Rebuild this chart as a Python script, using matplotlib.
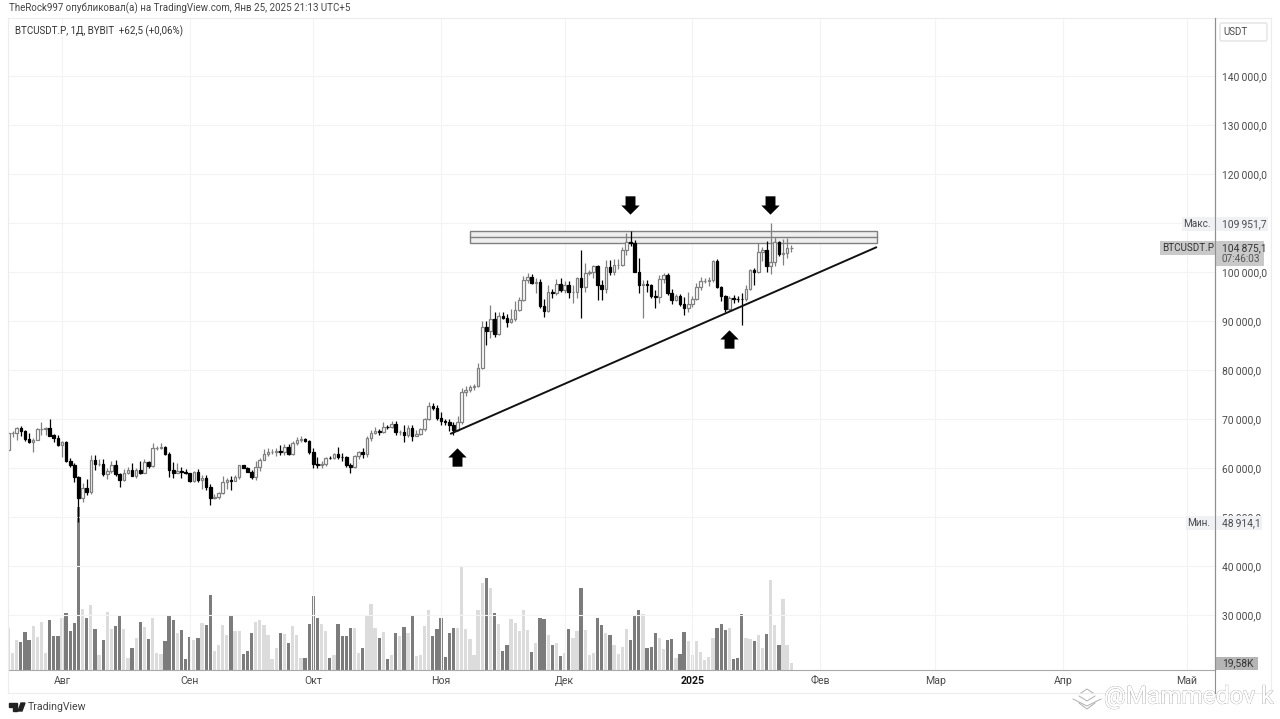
import matplotlib
matplotlib.use("Agg")
import matplotlib.pyplot as plt
import matplotlib.patheffects as pe
from matplotlib.patches import Polygon, Rectangle, FancyBboxPatch
from matplotlib.path import Path
from matplotlib.ticker import FuncFormatter
import numpy as np

plt.rcParams['font.family'] = ['Roboto', 'DejaVu Sans']

# daily candles, day number counted from 1 Aug 2024
first_day = -13
opens = [
    63700, 67100, 67150, 68200, 67550, 65900, 65400, 65800, 67900, 68000,
    68150, 66800, 66150, 64600, 65300, 61400, 60700, 58100, 53950, 56000,
    55100, 61700, 60850, 60900, 58700, 59350, 60600, 58700, 57500, 58900,
    59500, 58450, 59500, 59000, 61150, 60400, 64050, 64150, 64250, 62850,
    59500, 59000, 59400, 59100, 58950, 57300, 59100, 57500, 58000, 56150,
    53950, 54150, 54850, 57050, 57650, 57350, 58100, 60550, 60000, 59200,
    58200, 60300, 61650, 62950, 63200, 63350, 63550, 63300, 64250, 62950,
    65150, 65800, 65850, 65600, 63300, 60800, 60650, 60750, 62100, 62050,
    62800, 62200, 62150, 60600, 60300, 62400, 63200, 62850, 66050, 67050,
    67600, 67350, 68400, 68350, 69000, 67350, 67400, 66650, 68150, 66600,
    67000, 67950, 69900, 72700, 72300, 70250, 69500, 69300, 68750, 67800,
    69350, 75600, 75900, 76550, 76700, 80400, 88700, 87950, 90500, 87300,
    91050, 90600, 89850, 90500, 92300, 94300, 98400, 99000, 97800, 98000,
    93000, 91950, 95950, 95650, 97450, 96400, 97250, 95850, 96000, 98750,
    96950, 99850, 99900, 101150, 97350, 96600, 101100, 99950, 101350, 101400,
    104450, 106150, 105950, 100100, 97300, 97600, 97250, 95200, 94900, 98650,
    99400, 95800, 94200, 95150, 93550, 92600, 93450, 94500, 96850, 98100,
    98200, 98300, 102250, 96950, 95050, 92500, 94700, 94550, 94500, 94450,
    96500, 100500, 99950, 104100, 104400, 101200, 102000, 106100, 103650, 103900,
    104800,
]
highs = [
    67400, 67650, 68400, 68500, 67800, 67100, 66100, 68200, 69400, 68300,
    69950, 67000, 66800, 65600, 65600, 62000, 61100, 58300, 57000, 57700,
    62700, 62700, 61800, 61800, 60000, 61400, 61700, 59000, 59800, 60200,
    61000, 59900, 61500, 61800, 61500, 65000, 64500, 65000, 64500, 63200,
    61200, 61100, 60200, 59800, 59000, 59400, 59800, 58500, 58500, 56800,
    54700, 55200, 58300, 58000, 58300, 58500, 60700, 60700, 60300, 59600,
    61400, 62000, 63800, 64000, 63800, 64000, 64700, 64800, 64800, 65500,
    66400, 66500, 66100, 65700, 64000, 62300, 61500, 62300, 62500, 63000,
    64300, 63100, 62500, 61000, 62700, 63400, 64000, 66500, 67800, 68300,
    67900, 69400, 68700, 69500, 69500, 67800, 68800, 68800, 68800, 67700,
    68200, 70200, 73500, 73200, 72800, 71500, 69900, 69900, 69400, 70600,
    76300, 76800, 77000, 77200, 81500, 89900, 90000, 93300, 91800, 91800,
    91800, 91500, 92500, 94000, 94900, 99200, 99800, 99600, 98800, 98600,
    94500, 97300, 96600, 98600, 98700, 98200, 98200, 97300, 99000, 104400,
    101900, 100500, 101400, 101400, 98300, 102500, 102500, 102600, 102600, 105000,
    108000, 108300, 106500, 102800, 98300, 98400, 97600, 96300, 99300, 99700,
    99800, 96500, 95500, 95500, 94900, 96000, 95000, 97700, 98900, 98700,
    98900, 102500, 102700, 97200, 95300, 95000, 95300, 95200, 95700, 97300,
    100700, 100800, 105900, 105000, 106400, 109951, 107100, 106400, 106800, 106900,
    105500,
]
lows = [
    63300, 66300, 65800, 66600, 65500, 65000, 63300, 65700, 66800, 66800,
    66500, 65400, 64500, 62300, 61200, 60200, 57200, 48914, 53100, 54500,
    54700, 59600, 60400, 58400, 57700, 59000, 58400, 56100, 57400, 58800,
    58300, 57900, 58800, 58900, 60000, 60300, 63600, 63800, 62700, 58100,
    58000, 59000, 58000, 58700, 57200, 57200, 57200, 55800, 55600, 52500,
    53700, 53700, 54600, 55800, 55600, 57300, 57800, 59900, 59100, 57700,
    57600, 59300, 61600, 62500, 62800, 62400, 62700, 62700, 62700, 62700,
    64700, 65400, 65400, 62900, 60000, 60000, 60100, 60500, 61900, 61900,
    61900, 61500, 60200, 58900, 60100, 61900, 62000, 62300, 65500, 66900,
    66800, 67200, 67900, 68100, 66800, 66800, 65300, 66400, 65500, 66500,
    66800, 67600, 69700, 71800, 69700, 68800, 68800, 67500, 66800, 67500,
    69000, 74700, 75500, 76000, 76500, 80200, 85100, 86600, 86700, 87200,
    90400, 88800, 89500, 90000, 92000, 94100, 97800, 97500, 95800, 92600,
    90900, 91800, 94600, 95300, 95900, 95800, 94700, 93700, 94700, 90700,
    96000, 99400, 98800, 94200, 94300, 95800, 99400, 99300, 100700, 101300,
    103400, 105300, 100000, 95700, 90700, 96000, 94700, 92700, 93600, 97800,
    95300, 93500, 94000, 93100, 91300, 91900, 92800, 94200, 96300, 97700,
    97100, 97900, 96800, 94000, 91800, 92000, 93700, 93800, 89200, 94100,
    96400, 97300, 99800, 102300, 100100, 99500, 101200, 103300, 101400, 102900,
    104100,
]
closes = [
    67100, 67150, 68100, 67550, 65900, 65400, 65800, 68000, 68000, 68250,
    66600, 66150, 64600, 65300, 61400, 60700, 58100, 53950, 56000, 55100,
    61700, 60900, 60900, 58700, 59350, 60600, 58700, 57500, 58900, 59500,
    58450, 59500, 59000, 61150, 60400, 64050, 64150, 64250, 62850, 59500,
    59000, 59400, 59100, 58950, 57300, 59100, 57500, 58000, 56150, 53950,
    54150, 54850, 57050, 57650, 57350, 58100, 60550, 60000, 59200, 58200,
    60300, 61650, 62950, 63200, 63350, 63550, 63300, 64250, 62950, 65150,
    65800, 65850, 65600, 63300, 60800, 60650, 60750, 62100, 62050, 62800,
    62200, 62150, 60600, 60300, 62400, 63200, 62850, 66050, 67050, 67600,
    67350, 68400, 68350, 69000, 67350, 67400, 66650, 68150, 66600, 67000,
    67950, 69900, 72700, 72300, 70250, 69500, 69300, 68750, 67800, 69350,
    75600, 75900, 76550, 76700, 80400, 88700, 87950, 90500, 87300, 91050,
    90600, 89850, 90500, 92300, 94300, 98400, 99000, 97800, 98000, 93000,
    91950, 95950, 95650, 97450, 96400, 97250, 95850, 96000, 98750, 96950,
    99850, 99900, 101150, 97350, 96600, 101100, 99950, 101400, 101400, 104450,
    106050, 105950, 100100, 97300, 97600, 97250, 95200, 94900, 98650, 99400,
    95800, 94200, 95150, 93550, 92600, 93450, 94500, 96850, 98100, 98200,
    98300, 102250, 96950, 95050, 92500, 94700, 94550, 94500, 94450, 96500,
    100500, 99950, 104100, 104400, 101200, 102000, 106100, 103650, 103900, 104800,
    104875,
]
# volume in thousands
volumes = [
    118, 49, 85, 78, 107, 84, 123, 92, 135, 49,
    141, 96, 95, 145, 161, 110, 132, 456, 172, 145,
    183, 116, 42, 85, 163, 115, 123, 152, 114, 35,
    62, 89, 134, 120, 86, 147, 49, 46, 82, 150,
    139, 105, 112, 31, 93, 84, 90, 132, 125, 211,
    54, 69, 126, 99, 154, 108, 108, 46, 54, 104,
    135, 141, 125, 99, 30, 62, 104, 102, 77, 124,
    99, 34, 34, 130, 208, 145, 130, 109, 33, 43,
    128, 96, 96, 118, 118, 49, 62, 153, 186, 119,
    91, 107, 31, 41, 104, 96, 120, 105, 152, 39,
    41, 123, 168, 95, 115, 146, 37, 104, 117, 118,
    290, 114, 87, 43, 169, 245, 257, 230, 161, 130,
    52, 71, 142, 132, 109, 168, 111, 51, 77, 146,
    143, 98, 69, 77, 38, 49, 114, 90, 109, 231,
    112, 42, 48, 145, 127, 103, 99, 69, 46, 65,
    114, 85, 153, 167, 157, 61, 65, 104, 90, 58,
    85, 88, 33, 44, 106, 82, 41, 80, 51, 29,
    37, 90, 118, 130, 113, 118, 31, 35, 158, 90,
    87, 82, 99, 63, 102, 252, 126, 69, 200, 71,
    20,
]

month_days = [0, 31, 61, 92, 122, 153, 184, 212, 243, 273]
month_labels = ['Авг', 'Сен', 'Окт', 'Ноя', 'Дек', '2025', 'Фев', 'Мар', 'Апр', 'Май']
price_ticks = [30000, 40000, 50000, 60000, 70000, 80000, 90000, 100000,
               110000, 120000, 130000, 140000]

# drawn levels: resistance box, trend line, arrows (day, price)
box_days = [99.0, 197.8]
box_prices = [105918, 107143, 108367]
trend_days = [94.2, 197.8]
trend_prices = [66939, 105102]
down_arrows = [(137.9, 113700), (171.8, 113700)]
up_arrows = [(161.9, 86300), (95.9, 62250)]

UP = '#808080'
DOWN = '#000000'
VOL_UP = '#dcdcdc'
VOL_DOWN = '#7c7c7c'
GRID = '#f3f3f3'
TXT = '#4a4a4a'
W, H = 1280, 719
L_PX, R_PX, T_PX, B_PX = 9, 1215, 18, 670

days = np.arange(first_day, first_day + len(closes))
o, h, l, c = map(np.array, (opens, highs, lows, closes))
rising = c >= o

fig = plt.figure(figsize=(W / 100, H / 100), dpi=100, facecolor='white')
rect = [L_PX / W, 1 - B_PX / H, (R_PX - L_PX) / W, (B_PX - T_PX) / H]
ax = fig.add_axes(rect)
ax_vol = ax.twinx()
ax.set_zorder(ax_vol.get_zorder() + 1)
ax.patch.set_visible(False)

# volume pane sits at the bottom of the same axes
ax_vol.bar(days, volumes, width=0.8, color=[VOL_UP if r else VOL_DOWN for r in rising], linewidth=0)
ax_vol.set_ylim(0, (B_PX - T_PX) * 2.8)
ax_vol.set_yticks([])
for s in ax_vol.spines.values():
    s.set_visible(False)

# candles
wick_col = [UP if r else DOWN for r in rising]
ax.vlines(days, l, h, colors=wick_col, linewidth=0.9, zorder=3)
body_low = np.minimum(o, c)
body_h = np.abs(c - o)
ax.bar(days, body_h, bottom=body_low, width=0.62,
       facecolor=['white' if r else DOWN for r in rising],
       edgecolor=wick_col, linewidth=0.9, zorder=4)

ax.set_xlim(-12.864, 279.85)
ax.set_ylim(18775.5, 151836.7)
ax.set_xticks(month_days)
ax.set_xticklabels(month_labels, fontsize=7.6, color=TXT)
ax.get_xticklabels()[5].set_fontweight('bold')
ax.get_xticklabels()[5].set_color('#111111')
ax.yaxis.tick_right()
ax.set_yticks(price_ticks)


def price_label(v, pos):
    # the 110 000 label is hidden behind the Макс. tag on the chart
    if v == 110000:
        return ''
    return f'{int(v):,}'.replace(',', '\u2009') + ',0'


ax.yaxis.set_major_formatter(FuncFormatter(price_label))
ax.tick_params(axis='y', length=0, pad=5, labelsize=7.4, labelcolor=TXT)
ax.tick_params(axis='x', length=0, pad=4)
ax.grid(True, color=GRID, linewidth=0.8, zorder=0)
ax.set_axisbelow(True)
ax.spines['top'].set_visible(False)
ax.spines['left'].set_visible(False)
ax.spines['right'].set_color('#8f8f8f')
ax.spines['bottom'].set_color('#a8a8a8')
ax.spines['right'].set_linewidth(0.8)
ax.spines['bottom'].set_linewidth(0.8)

# drawings
ax.add_patch(Rectangle((box_days[0], box_prices[0]), box_days[1] - box_days[0],
                       box_prices[2] - box_prices[0], facecolor='#eeeeee',
                       edgecolor='#808080', linewidth=1.0, zorder=2))
ax.plot(box_days, [box_prices[1]] * 2, color='#808080', linewidth=1.0, zorder=2)
ax.plot(trend_days, trend_prices, color='#111111', linewidth=1.4, zorder=5,
        solid_capstyle='butt')

up_marker = Path([(-0.27, -0.5), (-0.27, 0), (-0.5, 0), (0, 0.5), (0.5, 0),
                  (0.27, 0), (0.27, -0.5), (-0.27, -0.5)], closed=True)
down_marker = Path([(x, -y) for x, y in up_marker.vertices], closed=True)
ax.scatter(*zip(*down_arrows), marker=down_marker, s=175, color='black', linewidths=0, zorder=6)
ax.scatter(*zip(*up_arrows), marker=up_marker, s=175, color='black', linewidths=0, zorder=6)

# overlay in pixel coordinates for the page furniture
ov = fig.add_axes([0, 0, 1, 1], zorder=20)
ov.set_xlim(0, W)
ov.set_ylim(H, 0)
ov.axis('off')
ov.patch.set_visible(False)

ov.add_patch(Rectangle((8, 18), 1263, 675, fill=False, edgecolor='#ececec', linewidth=0.8))
ov.plot([1215, 1215], [18, 693], color='#8f8f8f', linewidth=0.8)


def tag(x0, x1, y0, y1, col):
    ov.add_patch(Rectangle((x0, y0), x1 - x0, y1 - y0, facecolor=col, edgecolor='none'))


ov.text(9, 8, 'TheRock997 опубликовал(а) на TradingView.com, Янв 25, 2025 21:13 UTC+5',
        fontsize=7.0, color='#444444', va='center')
ov.text(15, 31, 'BTCUSDT.P, 1Д, BYBIT  +62,5 (+0,06%)', fontsize=7.0, color='#333333', va='center')

ov.add_patch(FancyBboxPatch((1220, 23), 47, 18, boxstyle='round,pad=0,rounding_size=2',
                            facecolor='white', edgecolor='#dcdcdc', linewidth=0.8))
ov.text(1236, 32, 'USDT', fontsize=7, color=TXT, ha='center', va='center')

tag(1182, 1214.5, 217, 231, '#eff1f4')
tag(1215.5, 1268, 217, 231, '#eff1f4')
ov.text(1197, 224, 'Макс.', fontsize=7.2, color=TXT, ha='center', va='center')
ov.text(1222, 224, '109\u2009951,7', fontsize=7.4, color=TXT, va='center')

tag(1160, 1214.5, 241, 255, '#c9c9c9')
tag(1215.5, 1264, 241, 266, '#c9c9c9')
ov.text(1162, 248, 'BTCUSDT.P', fontsize=7.1, color='#333333', va='center')
ov.text(1222, 248, '104\u2009875,1', fontsize=7.4, color='#333333', va='center')
ov.text(1222, 259, '07:46:03', fontsize=7.2, color='#555555', va='center')

tag(1186, 1214.5, 516, 530, '#eff1f4')
tag(1215.5, 1262, 516, 530, '#eff1f4')
ov.text(1199, 523, 'Мин.', fontsize=7.2, color=TXT, ha='center', va='center')
ov.text(1222, 523, '48\u2009914,1', fontsize=7.4, color=TXT, va='center')

tag(1215.5, 1258, 657, 670, '#b5b5b5')
ov.text(1222, 663, '19,58K', fontsize=7.4, color='#333333', va='center')

# TradingView mark and name
ov.add_patch(Polygon([(9, 703), (17, 703), (17, 711), (13, 711), (13, 707), (9, 707)], color='#222222'))
ov.add_patch(Polygon([(18, 711), (21, 703), (25, 703), (22, 711)], color='#222222'))
ov.text(28, 707.5, 'TradingView', fontsize=7.6, color='#444444', va='center')

# watermark
wm = ov.text(1104, 697, '@Mammedov k', fontsize=17.5, color='white', va='center', clip_on=False)
wm.set_path_effects([pe.withStroke(linewidth=0.7, foreground='#a8a8a8'), pe.Normal()])
for xs, ys in (([1073, 1087, 1101], [699, 706, 699]),
               ([1079, 1087, 1095], [696, 701, 696]),
               ([1081, 1087, 1093], [693, 689, 693]),
               ([1079, 1087, 1095], [703, 709, 703])):
    ov.plot(xs, ys, color='#b0b0b0', linewidth=0.7)

fig.savefig('out.png', dpi=100, facecolor='white')
